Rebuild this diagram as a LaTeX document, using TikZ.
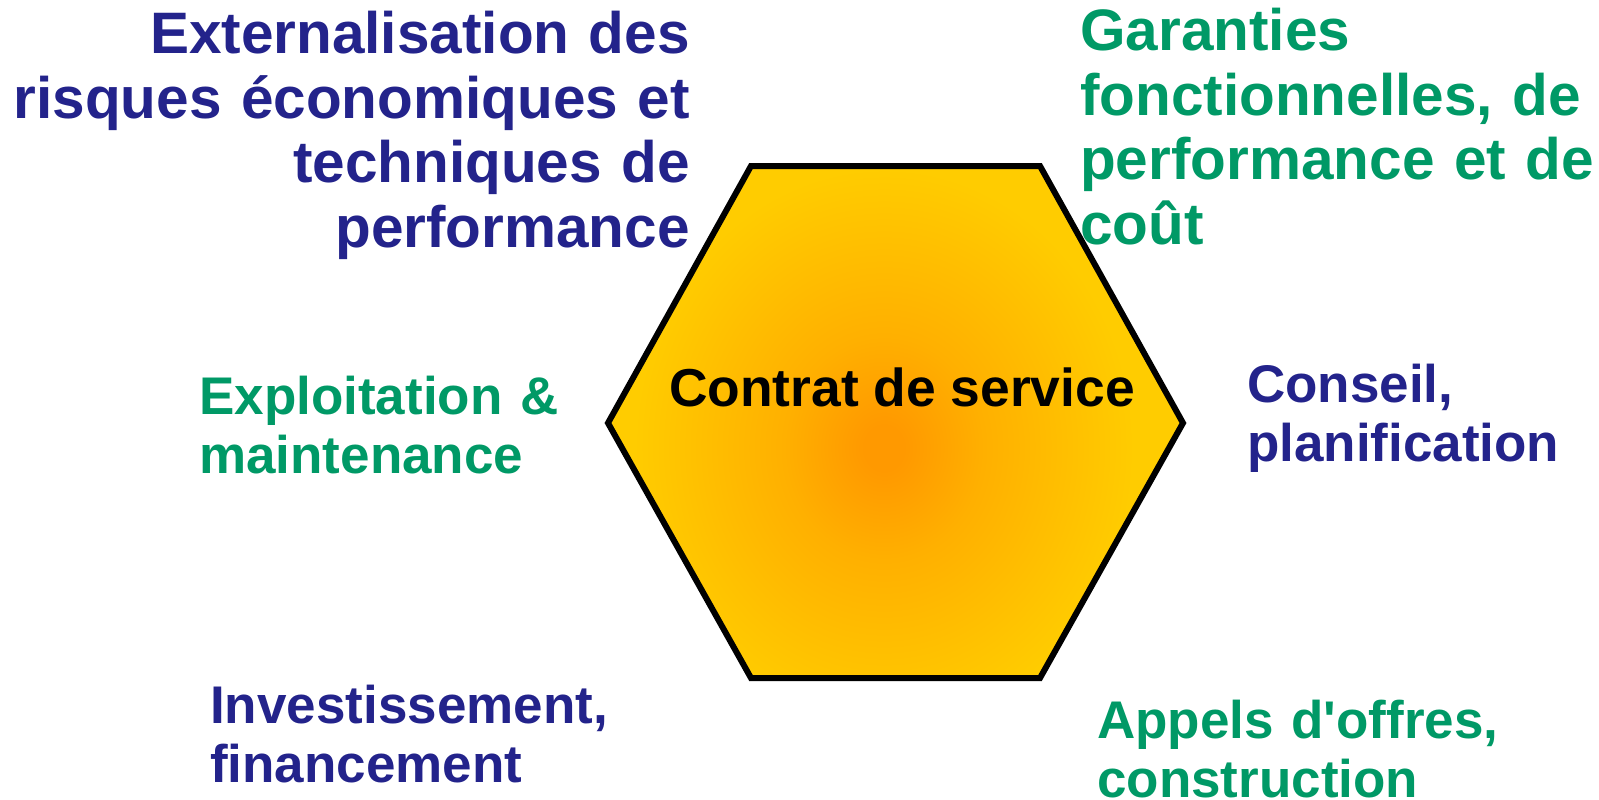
\documentclass[tikz,border=0pt]{standalone}
\usepackage{fontspec}
\setmainfont{Liberation Sans}
\usepackage{tikz}

\definecolor{bleu}{RGB}{35,35,139}
\definecolor{vert}{RGB}{0,153,102}
\definecolor{hexcore}{RGB}{255,153,0}
\definecolor{hexedge}{RGB}{255,204,0}
\pgfdeclareradialshading{hexglow}{\pgfpoint{0bp}{0bp}}{color(0bp)=(hexcore); color(2bp)=(hexcore); color(10bp)=(hexcore!55!hexedge); color(25bp)=(hexedge); color(50bp)=(hexedge)}

\begin{document}
\begin{tikzpicture}[x=1pt, y=-1pt,
        gros/.style={font=\fontsize{58.5}{64.5}\selectfont\bfseries, inner sep=0pt, text width=720pt},
        moyen/.style={font=\fontsize{53}{59}\selectfont\bfseries, inner sep=0pt, text width=480pt}]

        \useasboundingbox (0,0) rectangle (1599,800); %全体の大きさ

        %六角形（中心からオレンジ→黄色）
        \fill[hexedge](608,423)--(751,166)--(1040,166)--(1183,423)--(1040,678)--(751,678)--cycle;
        \begin{scope}
            \clip(608,423)--(751,166)--(1040,166)--(1183,423)--(1040,678)--(751,678)--cycle;
            \shade[shading=hexglow](884,448) ellipse (250 and 280); %縦長のぼかし
        \end{scope}
        \draw[line width=6pt](608,423)--(751,166)--(1040,166)--(1183,423)--(1040,678)--(751,678)--cycle;
        \node[inner sep=0pt, anchor=base, font=\fontsize{53.4}{59}\selectfont\bfseries](contrat) at (902,406){Contrat de service};

        %上の二つ
        \node[gros, align=right, anchor=base east, text=bleu](risques) at (690,54){Externalisation des\\risques économiques et\\techniques de\\performance};
        \node[gros, align=left, anchor=base west, text=vert](garanties) at (1080,51){Garanties\\fonctionnelles, de\\performance et de\\coût};

        %真ん中の二つ
        \node[moyen, align=left, anchor=base west, text=vert](exploitation) at (199,414){Exploitation \&\\maintenance};
        \node[moyen, align=left, anchor=base west, text=bleu](conseil) at (1247,402){Conseil,\\planification};

        %下の二つ
        \node[moyen, align=left, anchor=base west, text=bleu](investissement) at (210,723){Investissement,\\financement};
        \node[moyen, align=left, anchor=base west, text=vert](appels) at (1097,738){Appels d\textquotesingle offres,\\construction};
    \end{tikzpicture}
\end{document}
